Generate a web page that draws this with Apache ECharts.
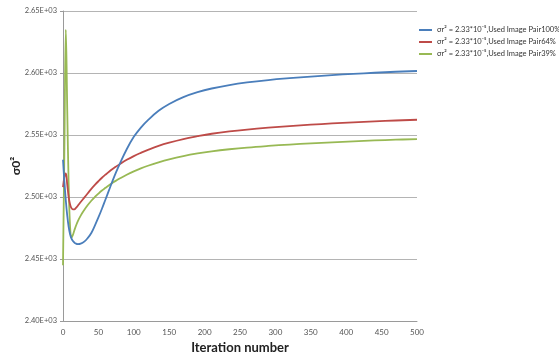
<!DOCTYPE html>
<html>
<head>
<meta charset="utf-8">
<script src="https://cdn.jsdelivr.net/npm/echarts@6/dist/echarts.min.js"></script>
<style>
  html, body { margin: 0; padding: 0; background: #fff; }
  #chart { width: 559px; height: 361px; }
</style>
</head>
<body>
<div id="chart"></div>
<script>
// Iteration numbers at which each run's σ0² estimate is sampled
const iterations = [0, 2, 4, 6, 8, 10, 12, 14, 16, 18, 21, 25, 30, 35, 40, 45, 50, 55, 60, 65, 70, 75, 80,
  90, 100, 110, 120, 135, 150, 170, 190, 210, 235, 260, 290, 320, 350, 380, 410, 440, 470, 500];

// σ0² per run (image pairs used: 100%, 64%, 39%)
const pair100 = [2530, 2512, 2497, 2485, 2476, 2470, 2466.5, 2464.5, 2463.3, 2462.5, 2462, 2462.4, 2464, 2467, 2471, 2477, 2483.5, 2490.5, 2498, 2505.5, 2513, 2520, 2526.5,
  2538.5, 2548.5, 2556, 2562, 2569.5, 2575, 2580.5, 2584.5, 2587.5, 2590.3, 2592.4, 2594.3, 2595.8, 2597.1, 2598.3, 2599.3, 2600.2, 2601, 2601.6];
const pair64 = [2508, 2516, 2519, 2510, 2500, 2494, 2491, 2490, 2490, 2491, 2493, 2496, 2499.5, 2503, 2506.5, 2509.7, 2512.7, 2515.5, 2518, 2520.4, 2522.6, 2524.6, 2526.5,
  2530, 2533, 2535.6, 2538, 2541.2, 2543.8, 2546.7, 2549, 2551, 2552.9, 2554.4, 2555.9, 2557.2, 2558.3, 2559.3, 2560.2, 2561, 2561.7, 2562.3];
const pair39 = [2445, 2540, 2635, 2570, 2510, 2476, 2467, 2469.5, 2473, 2476.3, 2480.5, 2485, 2489.5, 2493.5, 2497, 2500, 2502.7, 2505.2, 2507.4, 2509.5, 2511.4, 2513.2, 2514.9,
  2518, 2520.7, 2523.1, 2525.2, 2528, 2530.4, 2533, 2535.1, 2536.8, 2538.5, 2539.9, 2541.2, 2542.3, 2543.3, 2544.1, 2544.9, 2545.6, 2546.2, 2546.7];

const seriesNames = [
  'σr² = 2.33*10⁻⁵,Used Image Pair100%',
  'σr² = 2.33*10⁻⁵,Used Image Pair64%',
  'σr² = 2.33*10⁻⁵,Used Image Pair39%'
];
const seriesValues = [pair100, pair64, pair39];
const colors = ['#4a7ebb', '#be4b48', '#98b954'];

const FONT = 'Lato, "Liberation Sans", sans-serif';

const chart = echarts.init(document.getElementById('chart'), null, { renderer: 'canvas' });

chart.setOption({
  animation: false,
  backgroundColor: '#ffffff',
  color: colors,
  grid: { left: 63, right: 142, top: 11, bottom: 40, outerBoundsMode: 'none', containLabel: false },
  legend: {
    orient: 'vertical',
    left: 414,
    top: 21,
    itemWidth: 13,
    itemHeight: 2,
    itemGap: 4,
    icon: 'rect',
    textStyle: { fontFamily: FONT, fontSize: 7.5, color: '#333' },
    data: seriesNames
  },
  xAxis: {
    type: 'value',
    min: 0,
    max: 500,
    interval: 50,
    name: 'Iteration number',
    nameLocation: 'middle',
    nameGap: 20,
    nameMoveOverlap: false,
    nameTextStyle: { fontFamily: FONT, fontSize: 13, fontWeight: 'bold', color: '#222' },
    axisLine: { show: true, lineStyle: { color: '#9a9a9a', width: 1 } },
    axisTick: { show: false },
    axisLabel: { fontFamily: FONT, fontSize: 8, color: '#555', margin: 7 },
    splitLine: { show: false }
  },
  yAxis: {
    type: 'value',
    min: 2400,
    max: 2650,
    interval: 50,
    name: 'σ0²',
    nameLocation: 'middle',
    nameGap: 41,
    nameMoveOverlap: false,
    nameTextStyle: { fontFamily: FONT, fontSize: 12, fontWeight: 'bold', color: '#222' },
    axisLine: { show: true, lineStyle: { color: '#9a9a9a', width: 1 } },
    axisTick: { show: true, length: 3, lineStyle: { color: '#9a9a9a' } },
    axisLabel: {
      fontFamily: FONT, fontSize: 7.5, color: '#555', margin: 6,
      formatter: v => (v / 1000).toFixed(2) + 'E+03'
    },
    splitLine: { show: true, lineStyle: { color: '#b4b4b4', width: 1 } }
  },
  series: seriesValues.map((vals, i) => ({
    name: seriesNames[i],
    type: 'line',
    data: iterations.map((x, k) => [x, vals[k]]),
    showSymbol: false,
    smooth: 0.4,
    lineStyle: { width: 1.8, color: colors[i] },
    itemStyle: { color: colors[i] },
    z: 3 - i
  }))
});
</script>
</body>
</html>
